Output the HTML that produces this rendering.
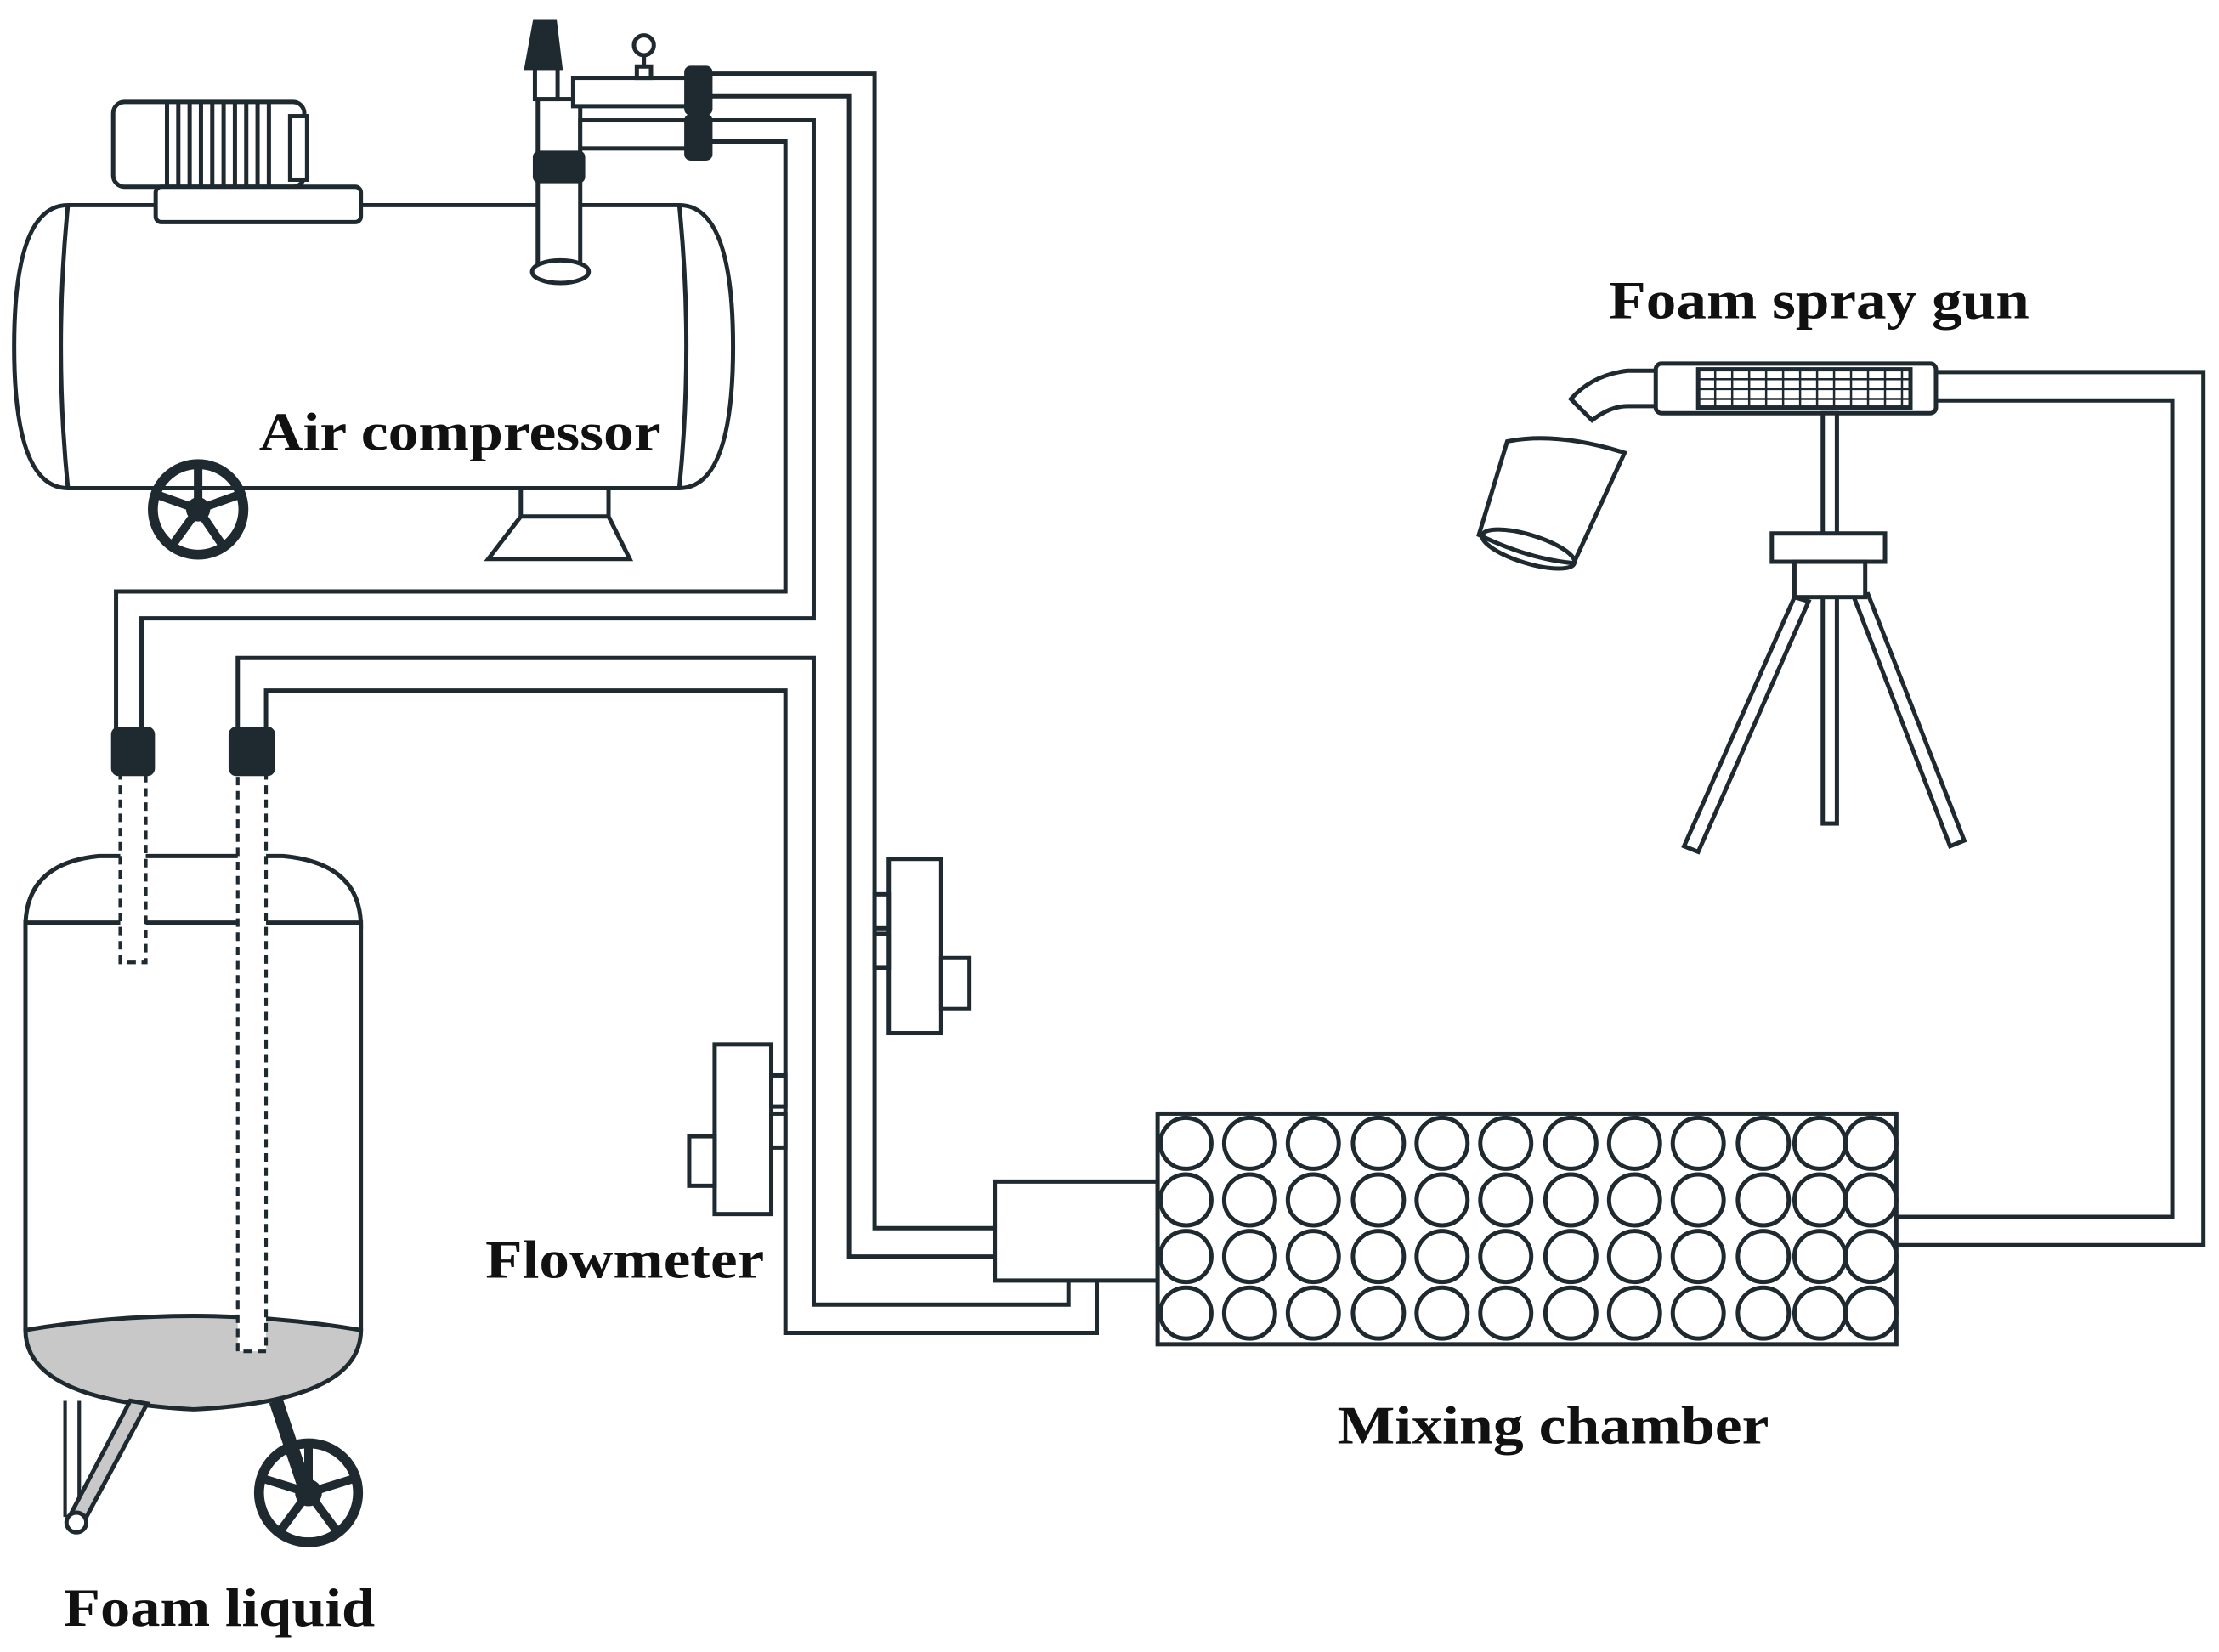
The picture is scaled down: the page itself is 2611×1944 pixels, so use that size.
<!DOCTYPE html>
<html><head><meta charset="utf-8"><style>html,body{margin:0;padding:0;background:#fff}svg{display:block}</style></head>
<body>
<svg width="2611" height="1944" viewBox="0 0 1568 1167.5" preserveAspectRatio="none" xmlns="http://www.w3.org/2000/svg">
<g fill="none" stroke="#1e2a30" stroke-width="3">
<!-- air compressor -->
<path d="M48,145 L480,145 Q518,145 518,245 Q518,345 480,345 L48,345 Q10,345 10,245 Q10,145 48,145 Z" fill="#fff"/>
<path d="M48,145 Q38,245 48,345 M480,145 Q490,245 480,345"/>
<rect x="80" y="72" width="135" height="60" rx="8" fill="#fff"/>
<rect x="205" y="82" width="12" height="45" fill="#fff"/>
<path d="M118,72V132M126,72V132M134,72V132M142,72V132M150,72V132M158,72V132M166,72V132M174,72V132M182,72V132M190,72V132"/>
<rect x="110" y="132" width="145" height="25" rx="4" fill="#fff"/>
<path d="M368,345h62v20h-62z M345,395 L368,365 L430,365 L445,395 Z" fill="#fff"/>
<rect x="380" y="70" width="30" height="120" fill="#fff"/>
<ellipse cx="396" cy="192" rx="20" ry="8" fill="#fff"/>
<rect x="378" y="108" width="34" height="20" rx="3" fill="#1e2a30"/>
<path d="M378,15 L392,15 L396,48 L372,48 Z" fill="#1e2a30"/>
<rect x="378" y="48" width="16" height="22" fill="#fff"/>
<rect x="405" y="55" width="85" height="20" fill="#fff"/>
<rect x="410" y="85" width="80" height="20" fill="#fff"/>
<circle cx="455" cy="32" r="7" fill="#fff"/><path d="M455,39v8M450,47h10v8h-10z"/>
<rect x="485" y="48" width="17" height="32" rx="3" fill="#1e2a30"/>
<rect x="485" y="82" width="17" height="30" rx="3" fill="#1e2a30"/>
<!-- pipes -->
<path d="M502,52H618V868H703 M502,68H600V888H703"/>
<path d="M502,85H575V437H100V520 M502,100H555V418H82V520"/>
<path d="M168,520V465H575V922H755V905 M188,520V488H555V942H775V905"/>
<path d="M1340,860H1535V283H1368 M1340,880H1557V263H1368"/>
<!-- flowmeters -->
<rect x="628" y="607" width="37" height="123" fill="#fff"/>
<rect x="618" y="632" width="10" height="24" fill="#fff"/><rect x="618" y="660" width="10" height="24" fill="#fff"/>
<rect x="665" y="677" width="20" height="36" fill="#fff"/>
<rect x="505" y="738" width="40" height="120" fill="#fff"/>
<rect x="545" y="760" width="10" height="22" fill="#fff"/><rect x="545" y="787" width="10" height="24" fill="#fff"/>
<rect x="487" y="803" width="18" height="35" fill="#fff"/>
<!-- mixer -->
<rect x="703" y="835" width="115" height="70" fill="#fff"/>
<rect x="818" y="787" width="522" height="163" fill="#fff"/>
<g id="row">
<circle cx="838" cy="808" r="18"/><circle cx="883" cy="808" r="18"/><circle cx="928" cy="808" r="18"/><circle cx="974" cy="808" r="18"/><circle cx="1019" cy="808" r="18"/><circle cx="1064" cy="808" r="18"/><circle cx="1110" cy="808" r="18"/><circle cx="1155" cy="808" r="18"/><circle cx="1200" cy="808" r="18"/><circle cx="1246" cy="808" r="18"/><circle cx="1286" cy="808" r="18"/><circle cx="1322" cy="808" r="18"/>
</g>
<use href="#row" y="40"/><use href="#row" y="80"/><use href="#row" y="120"/>
<!-- spray gun -->
<rect x="1170" y="257" width="198" height="35" rx="4" fill="#fff"/>
<rect x="1200" y="261" width="150" height="27" fill="#fff"/>
<g stroke-width="1.5"><path d="M1200,268H1350M1200,275H1350M1200,282H1350M1212,261V288M1224,261V288M1236,261V288M1248,261V288M1260,261V288M1272,261V288M1284,261V288M1296,261V288M1308,261V288M1320,261V288M1332,261V288M1344,261V288"/></g>
<path d="M1170,262 L1150,262 Q1125,265 1110,282 L1125,297 Q1138,287 1150,287 L1170,287"/>
<path d="M1065,312 Q1100,305 1148,320 L1112,398 Q1080,395 1045,378 Z" fill="#fff"/>
<ellipse cx="1080" cy="388" rx="34" ry="10" transform="rotate(17 1080 388)"/>
<rect x="1288" y="292" width="10" height="290" fill="#fff"/>
<path d="M1268,422 L1190,598 L1200,602 L1278,425 Z M1310,422 L1378,598 L1388,594 L1320,420 Z" fill="#fff"/>
<rect x="1252" y="377" width="80" height="20" fill="#fff"/>
<rect x="1268" y="397" width="50" height="25" fill="#fff"/>
<!-- foam tank -->
<path d="M18,655 Q18,610 70,605 L200,605 Q255,610 255,655 Z" fill="#fff"/>
<rect x="18" y="652" width="237" height="288" fill="#fff"/>
<path d="M18,940 Q137,920 255,940 Q255,990 137,996 Q18,990 18,940 Z" fill="#c8c8c8"/>
<path d="M46,990 L46,1072 M56,990 L56,1070" stroke-width="2.5"/>
<path d="M92,990 L50,1070 L60,1074 L104,992 Z" fill="#c8c8c8"/>
<circle cx="54" cy="1076" r="7" fill="#fff"/>
<path d="M195,990 L215,1050" stroke-width="10"/>
<g stroke-dasharray="6,4" stroke-width="2.5">
<rect x="85" y="545" width="18" height="135" fill="#fff"/>
<rect x="168" y="545" width="20" height="410" fill="#fff"/>
</g>
<rect x="80" y="515" width="28" height="32" rx="4" fill="#1e2a30"/>
<rect x="163" y="515" width="30" height="32" rx="4" fill="#1e2a30"/>
</g>
<!-- wheels -->
<g stroke="#1e2a30" fill="none">
<circle cx="140" cy="360" r="32" stroke-width="7"/>
<circle cx="140" cy="360" r="8" fill="#1e2a30"/>
<path d="M140,360L140,330M140,360L168,350M140,360L157,385M140,360L122,385M140,360L112,350" stroke-width="6"/>
<circle cx="218" cy="1055" r="35" stroke-width="7"/>
<circle cx="218" cy="1055" r="9" fill="#1e2a30"/>
<path d="M218,1055L218,1022M218,1055L250,1045M218,1055L238,1082M218,1055L198,1082M218,1055L186,1045" stroke-width="6"/>
</g>
<g font-family="Liberation Serif, serif" font-weight="bold" font-size="38" fill="#111" lengthAdjust="spacingAndGlyphs">
<text x="183" y="318" textLength="284" lengthAdjust="spacingAndGlyphs">Air compressor</text>
<text x="1137" y="225" textLength="297" lengthAdjust="spacingAndGlyphs">Foam spray gun</text>
<text x="343" y="903" textLength="197" lengthAdjust="spacingAndGlyphs">Flowmeter</text>
<text x="945" y="1020" textLength="305" lengthAdjust="spacingAndGlyphs">Mixing chamber</text>
<text x="45" y="1149" textLength="220" lengthAdjust="spacingAndGlyphs">Foam liquid</text>
</g>
</svg>
</body></html>
